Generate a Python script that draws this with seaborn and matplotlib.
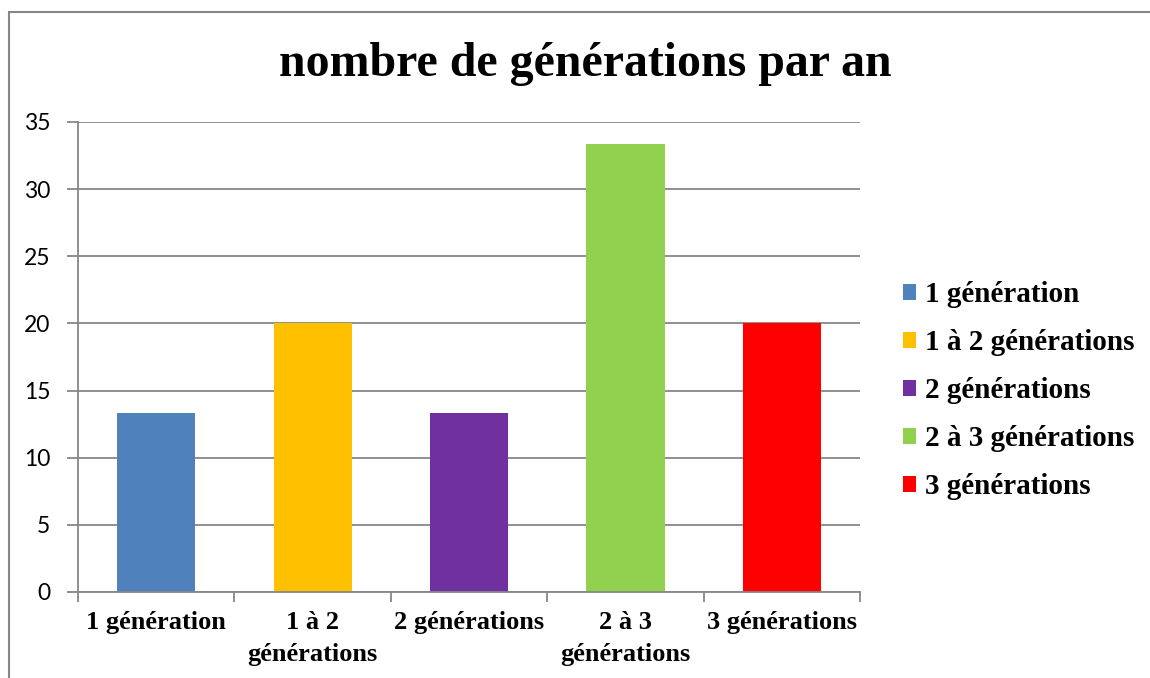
import matplotlib
matplotlib.use("Agg")
import matplotlib.pyplot as plt
from matplotlib.patches import Patch, Rectangle
import seaborn as sns
import pandas as pd

categories = ["1 génération", "1 à 2 générations", "2 générations", "2 à 3 générations", "3 générations"]
tick_labels = ["1 génération", "1 à 2\ngénérations", "2 générations", "2 à 3\ngénérations", "3 générations"]
values = [13.33, 20.0, 13.33, 33.33, 20.0]
colors = ["#4F81BD", "#FFC000", "#7030A0", "#92D050", "#FF0000"]
title = "nombre de générations par an"

sns.set_style("white")
plt.rcParams['font.family'] = ['Liberation Serif', 'DejaVu Serif']
plt.rcParams['text.color'] = 'black'
plt.rcParams['xtick.color'] = 'black'
plt.rcParams['ytick.color'] = 'black'
plt.rcParams['xtick.labelcolor'] = 'black'
plt.rcParams['ytick.labelcolor'] = 'black'

df = pd.DataFrame({"cat": categories, "val": values})

fig = plt.figure(figsize=(11.5, 6.78), dpi=100)
ax = fig.add_axes([78/1150, 86/678, (860-78)/1150, (592-122)/678])

sns.barplot(data=df, x="cat", y="val", hue="cat", palette=colors, width=0.5,
            dodge=False, legend=False, ax=ax, saturation=1, linewidth=0)

grid_c = "#878787"
ax.set_ylim(0, 35)
ax.set_xlim(-0.5, 4.5)
ax.set_yticks(range(0, 36, 5))
ax.yaxis.grid(True, color=grid_c, linewidth=1.3)
ax.set_axisbelow(True)
for s in ["top", "right"]:
    ax.spines[s].set_visible(False)
for s in ["left", "bottom"]:
    ax.spines[s].set_color(grid_c)
    ax.spines[s].set_linewidth(1.3)

ax.set_xticks(range(len(categories)))
ax.set_xticklabels(tick_labels, fontsize=19, fontweight="bold",
                   family=['Liberation Serif'], linespacing=1.5, color="black")
ax.tick_params(axis="x", length=0, pad=14)
ax.set_xticks([i - 0.5 for i in range(len(categories) + 1)], minor=True)
ax.tick_params(axis="x", which="minor", length=7, width=1.3, color=grid_c, bottom=True)
ax.tick_params(axis="y", length=8, width=1.3, color=grid_c, left=True, pad=12)
for lab in ax.get_yticklabels():
    lab.set_family(['Lato', 'DejaVu Sans'])
    lab.set_fontsize(16.5)
    lab.set_color("black")
ax.set_xlabel("")
ax.set_ylabel("")

fig.text(585/1150, 1 - 64/678, title, ha="center", va="center",
         fontsize=34.5, fontweight="bold", color="black")

handles = [Patch(facecolor=c, edgecolor="none") for c in colors]
fig.legend(handles, categories, loc="center left",
           bbox_to_anchor=(877/1150, 1 - 391/678), frameon=False,
           prop={"family": "Liberation Serif", "weight": "bold", "size": 21},
           handlelength=0.45, handleheight=0.45, handletextpad=0.31,
           labelspacing=0.72, labelcolor="black")

fig.patches.append(Rectangle((9/1150, -0.1), 1.2, (678-12)/678 + 0.1,
                             transform=fig.transFigure, fill=False,
                             edgecolor="#878787", linewidth=1.5))

fig.savefig("out.png", dpi=100)
